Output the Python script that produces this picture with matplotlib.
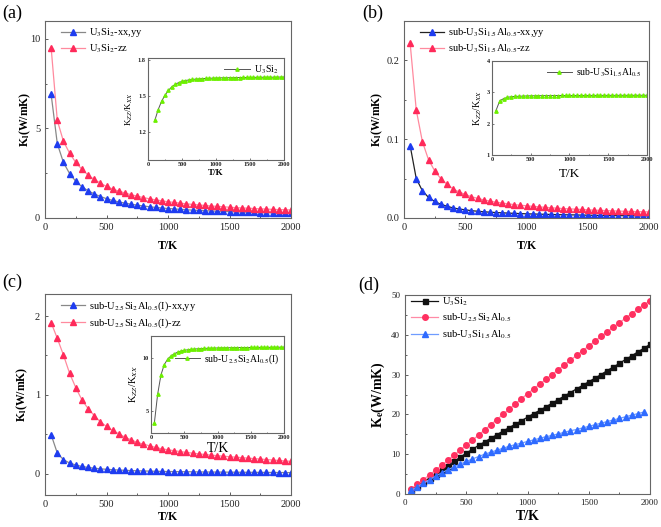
import matplotlib
matplotlib.use("Agg")
import matplotlib.pyplot as plt
from matplotlib.ticker import MultipleLocator, FormatStrFormatter

plt.rcParams['font.family'] = ['Liberation Serif', 'DejaVu Serif']
plt.rcParams['mathtext.fontset'] = 'stix'
plt.rcParams['xtick.direction'] = 'in'
plt.rcParams['ytick.direction'] = 'in'
plt.rcParams['axes.edgecolor'] = '#666666'
plt.rcParams['axes.linewidth'] = 0.8

# ---------------- data ----------------
T = [50, 100, 150, 200, 250, 300, 350, 400, 450, 500,
     550, 600, 650, 700, 750, 800, 850, 900, 950, 1000,
     1050, 1100, 1150, 1200, 1250, 1300, 1350, 1400, 1450, 1500,
     1550, 1600, 1650, 1700, 1750, 1800, 1850, 1900, 1950, 2000]
T_inset_a = T[1:]
T_blue_d = T[:-1]

a_xx = [6.9, 4.15, 3.1, 2.48, 2.05, 1.75, 1.52, 1.35, 1.2, 1.08,
        0.98, 0.9, 0.83, 0.77, 0.72, 0.67, 0.63, 0.59, 0.56, 0.53,
        0.51, 0.48, 0.46, 0.44, 0.42, 0.41, 0.39, 0.38, 0.37, 0.355,
        0.345, 0.335, 0.325, 0.315, 0.305, 0.298, 0.29, 0.283, 0.276, 0.27]
a_zz = [9.5, 5.45, 4.28, 3.62, 3.1, 2.72, 2.4, 2.15, 1.95, 1.76,
        1.62, 1.5, 1.4, 1.3, 1.22, 1.14, 1.07, 1.01, 0.96, 0.91,
        0.87, 0.83, 0.79, 0.76, 0.73, 0.70, 0.67, 0.65, 0.63, 0.60,
        0.58, 0.56, 0.55, 0.53, 0.51, 0.50, 0.48, 0.47, 0.46, 0.45]
a_ratio = [1.30, 1.39, 1.46, 1.51, 1.55, 1.58, 1.60, 1.615, 1.625,
           1.632, 1.637, 1.641, 1.644, 1.646, 1.648, 1.650, 1.651, 1.652, 1.653,
           1.654, 1.655, 1.655, 1.656, 1.656, 1.657, 1.657, 1.658, 1.658, 1.658,
           1.659, 1.659, 1.659, 1.660, 1.660, 1.660, 1.660, 1.661, 1.661, 1.661]

b_xx = [0.092, 0.050, 0.0346, 0.0261, 0.0210, 0.0174, 0.0150, 0.0128, 0.0114, 0.0104,
        0.0093, 0.0086, 0.0079, 0.0074, 0.0069, 0.0066, 0.0062, 0.0059, 0.0056, 0.0053,
        0.0051, 0.0049, 0.0047, 0.0045, 0.0043, 0.0041, 0.0040, 0.0039, 0.0037, 0.0036,
        0.0034, 0.0033, 0.0032, 0.0031, 0.0030, 0.0029, 0.0029, 0.0028, 0.0027, 0.0027]
b_zz = [0.222, 0.137, 0.097, 0.074, 0.060, 0.050, 0.043, 0.037, 0.033, 0.030,
        0.027, 0.025, 0.023, 0.0215, 0.020, 0.019, 0.018, 0.017, 0.0162, 0.0155,
        0.0148, 0.0142, 0.0136, 0.013, 0.0125, 0.012, 0.0116, 0.0112, 0.0108, 0.0104,
        0.010, 0.0097, 0.0094, 0.0091, 0.0088, 0.0085, 0.0083, 0.0081, 0.0079, 0.0077]
b_ratio = [2.41, 2.73, 2.80, 2.84, 2.86, 2.87, 2.875, 2.88, 2.885, 2.888,
           2.89, 2.892, 2.894, 2.895, 2.896, 2.897, 2.898, 2.899, 2.90, 2.90,
           2.90, 2.901, 2.901, 2.902, 2.902, 2.902, 2.903, 2.903, 2.903, 2.904,
           2.904, 2.904, 2.905, 2.905, 2.905, 2.905, 2.906, 2.906, 2.906, 2.906]

c_xx = [0.494, 0.262, 0.178, 0.136, 0.111, 0.092, 0.080, 0.070, 0.062, 0.056,
        0.051, 0.047, 0.043, 0.040, 0.037, 0.035, 0.033, 0.031, 0.029, 0.028,
        0.027, 0.026, 0.025, 0.024, 0.023, 0.022, 0.0216, 0.021, 0.0204, 0.0198,
        0.0192, 0.0186, 0.018, 0.0175, 0.017, 0.0164, 0.0159, 0.0153, 0.0148, 0.0143]
c_zz = [1.916, 1.717, 1.506, 1.274, 1.093, 0.937, 0.827, 0.738, 0.658, 0.60,
        0.549, 0.506, 0.464, 0.43, 0.397, 0.376, 0.354, 0.333, 0.316, 0.304,
        0.292, 0.281, 0.270, 0.261, 0.252, 0.244, 0.236, 0.229, 0.222, 0.216,
        0.210, 0.204, 0.198, 0.192, 0.186, 0.180, 0.174, 0.168, 0.162, 0.157]
c_ratio = [3.9, 6.6, 8.4, 9.35, 9.85, 10.15, 10.35, 10.5, 10.6, 10.67,
           10.72, 10.76, 10.79, 10.81, 10.83, 10.85, 10.86, 10.87, 10.88, 10.89,
           10.9, 10.9, 10.91, 10.91, 10.92, 10.92, 10.93, 10.93, 10.93, 10.94,
           10.94, 10.94, 10.95, 10.95, 10.95, 10.95, 10.96, 10.96, 10.96, 10.96]

d_u3si2 = [1.0, 2.0, 3.0, 4.0, 5.0, 6.1, 7.1, 8.2, 9.2, 10.3,
           11.2, 12.2, 13.1, 14.0, 14.9, 15.8, 16.7, 17.5, 18.4, 19.3,
           20.2, 21.0, 21.9, 22.8, 23.7, 24.6, 25.5, 26.4, 27.3, 28.2,
           29.1, 30.0, 31.0, 31.9, 32.8, 33.8, 34.7, 35.7, 36.6, 37.6]
d_u25 = [1.2, 2.4, 3.6, 4.8, 6.0, 7.2, 8.5, 9.7, 11.0, 12.3,
         13.5, 14.8, 16.1, 17.4, 18.7, 20.0, 21.3, 22.6, 23.9, 25.2,
         26.4, 27.6, 28.8, 30.0, 31.2, 32.4, 33.6, 34.8, 36.0, 37.2,
         38.4, 39.6, 40.7, 41.9, 43.0, 44.2, 45.3, 46.4, 47.5, 48.6]
d_u3si15 = [0.9, 1.8, 2.7, 3.6, 4.5, 5.3, 6.1, 6.8, 7.5, 8.2,
            8.8, 9.4, 10.0, 10.5, 11.0, 11.5, 12.0, 12.4, 12.8, 13.2,
            13.6, 14.0, 14.4, 14.7, 15.1, 15.5, 15.9, 16.2, 16.6, 17.0,
            17.4, 17.8, 18.2, 18.6, 19.0, 19.4, 19.8, 20.2, 20.6]

lab_a = ['U$_3$Si$_2$-xx,yy', 'U$_3$Si$_2$-zz', 'U$_3$Si$_2$']
lab_b = ['sub-U$_3$Si$_{1.5}$Al$_{0.5}$-xx,yy', 'sub-U$_3$Si$_{1.5}$Al$_{0.5}$-zz',
         'sub-U$_3$Si$_{1.5}$Al$_{0.5}$']
lab_c = ['sub-U$_{2.5}$Si$_2$Al$_{0.5}$(I)-xx,yy', 'sub-U$_{2.5}$Si$_2$Al$_{0.5}$(I)-zz',
         'sub-U$_{2.5}$Si$_2$Al$_{0.5}$(I)']
lab_d = ['U$_3$Si$_2$', 'sub-U$_{2.5}$Si$_2$Al$_{0.5}$', 'sub-U$_3$Si$_{1.5}$Al$_{0.5}$']

BLUE = '#1e3cf0'
RED = '#ff2a5a'
PINK = '#ff8a9e'
GREEN = '#6cf000'

fig = plt.figure(figsize=(6.61, 5.27), dpi=100)
W, H = 661.0, 527.0


def box(l, t, r, b):
    return [l / W, 1 - b / H, (r - l) / W, (b - t) / H]


def main_axes(rect, ylim, ymaj, ymin_, ylabel, ylab_x, xl_pad, tick_fs=7.5, lab_fs=8.5):
    ax = fig.add_axes(rect)
    ax.set_xlim(0, 2000)
    ax.set_ylim(*ylim)
    ax.xaxis.set_major_locator(MultipleLocator(500))
    ax.xaxis.set_minor_locator(MultipleLocator(250))
    ax.yaxis.set_major_locator(MultipleLocator(ymaj))
    ax.yaxis.set_minor_locator(MultipleLocator(ymin_))
    ax.tick_params(which='both', labelsize=tick_fs, top=False, right=False,
                   length=2.5, width=0.6, colors='#444444', labelcolor='#222222')
    ax.tick_params(which='minor', length=1.5)
    ax.set_xlabel('T/K', fontsize=lab_fs, fontweight='bold', labelpad=xl_pad)
    ax.set_ylabel(ylabel, fontsize=lab_fs, fontweight='bold')
    ax.yaxis.set_label_coords(ylab_x, 0.5)
    return ax


def inset_axes(rect, ylim, yticks, ylabel_fs, xl_bold, xl_fs, xl_pad=1.5):
    ax = fig.add_axes(rect)
    ax.set_xlim(0, 2000)
    ax.set_ylim(*ylim)
    ax.set_xticks([0, 500, 1000, 1500, 2000])
    ax.xaxis.set_minor_locator(MultipleLocator(250))
    ax.set_yticks(yticks)
    ax.tick_params(which='both', labelsize=4.5, length=1.5, width=0.5,
                   colors='#444444', labelcolor='#222222', pad=1.5)
    ax.tick_params(which='minor', length=1)
    for lab in ax.get_xticklabels() + ax.get_yticklabels():
        lab.set_fontweight('bold')
    ax.set_xlabel('T/K', fontsize=xl_fs, fontweight='bold' if xl_bold else 'normal', labelpad=xl_pad)
    ax.set_ylabel('K$_{ZZ}$/K$_{XX}$', fontsize=ylabel_fs, labelpad=2)
    return ax


def kl_pair(ax, xx, zz, labs, line_xx):
    ax.plot(T, xx, color=line_xx, lw=0.9, marker='^', ms=5, mfc=BLUE, mec=BLUE, label=labs[0])
    ax.plot(T, zz, color=PINK, lw=0.9, marker='^', ms=5, mfc=RED, mec=RED, label=labs[1])
    ax.legend(loc='upper left', bbox_to_anchor=(0.04, 1.005), frameon=False, fontsize=7.5,
              handlelength=2.3, handletextpad=0.4, labelspacing=0.35, borderaxespad=0.2)


def ratio_line(ax, x, y, lab, fs, **lg):
    ax.plot(x, y, color='#555555', lw=0.7, marker='^', ms=2.4, mfc=GREEN, mec=GREEN, label=lab)
    ax.legend(frameon=False, fontsize=fs, handlelength=2.6, handletextpad=0.4, **lg)


# (a)
ax = main_axes(box(45, 21, 291, 218), (0, 11), 5, 2.5, 'K$_{\\mathbf{l}}$(W/mK)', -0.05, 6)
kl_pair(ax, a_xx, a_zz, lab_a[:2], '#888888')
ins = inset_axes(box(148, 58, 284, 160), (0.97, 1.82), [1.2, 1.5, 1.8], 6.5, True, 6.5)
ins.set_yticklabels(['1.2', '1.5', '1.8'], fontweight='bold')
ratio_line(ins, T_inset_a, a_ratio, lab_a[2], 7, loc='upper right', borderaxespad=0.2)

# (b)
ax = main_axes(box(404, 21, 649, 218), (0, 0.25), 0.1, 0.05, 'K$_{\\mathbf{l}}$(W/mK)', -0.078, 6)
ax.yaxis.set_major_formatter(FormatStrFormatter('%.1f'))
kl_pair(ax, b_xx, b_zz, lab_b[:2], '#222222')
ins = inset_axes(box(492, 61, 647, 155), (1, 4), [1, 2, 3, 4], 7, False, 9.5, xl_pad=4)
ratio_line(ins, T, b_ratio, lab_b[2], 7, loc='upper right', borderaxespad=0.2)

# (c)
ax = main_axes(box(45, 294, 291, 495), (-0.27, 2.28), 1, 0.5, 'K$_{\\mathbf{l}}$(W/mK)', -0.061, 1.5)
kl_pair(ax, c_xx, c_zz, lab_c[:2], '#888888')
ins = inset_axes(box(151, 336, 284, 433), (3, 12), [5, 10], 7.5, False, 10)
ratio_line(ins, T, c_ratio, lab_c[2], 7, loc='center right', bbox_to_anchor=(1.0, 0.76),
           borderaxespad=0.1)

# (d)
ax = main_axes(box(405, 295, 650, 494), (0, 50), 10, 5, 'K$_{\\mathbf{e}}$(W/mK)', -0.073, 2,
               tick_fs=6.5, lab_fs=10)
ax.plot(T, d_u3si2, color='#111111', lw=0.9, marker='s', ms=3.6, mfc='#111111', mec='#111111',
        label=lab_d[0])
ax.plot(T, d_u25, color='#ff8aa6', lw=0.9, marker='o', ms=4, mfc='#ff3060', mec='#ff3060',
        label=lab_d[1])
ax.plot(T_blue_d, d_u3si15, color='#6f9cff', lw=0.9, marker='^', ms=4.5, mfc='#2f6bff',
        mec='#2f6bff', label=lab_d[2])
ax.legend(loc='upper left', bbox_to_anchor=(0.0, 1.03), frameon=False, fontsize=7.5,
          handlelength=2.6, handletextpad=0.4, labelspacing=0.4, borderaxespad=0.2)

fig.text(2 / W, 1 - 13 / H, '(a)', fontsize=13, va='center')
fig.text(362 / W, 1 - 13 / H, '(b)', fontsize=13, va='center')
fig.text(2 / W, 1 - 282 / H, '(c)', fontsize=13, va='center')
fig.text(358 / W, 1 - 285 / H, '(d)', fontsize=13, va='center')

fig.savefig('out.png', dpi=100)
